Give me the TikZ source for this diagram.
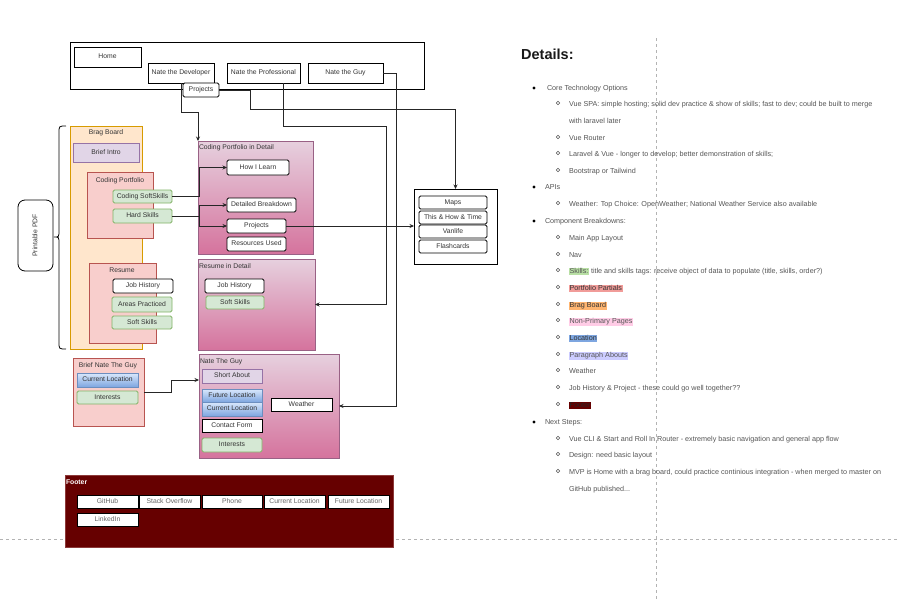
\documentclass[tikz,border=0pt]{standalone}
\usepackage{fontspec}
\setmainfont{Liberation Sans}
\usetikzlibrary{arrows.meta}
\definecolor{txt}{HTML}{333333}
\definecolor{dtx}{HTML}{555555}
\definecolor{greenf}{HTML}{D5E8D4}\definecolor{greend}{HTML}{82B366}
\definecolor{purf}{HTML}{E1D5E7}\definecolor{purd}{HTML}{9673A6}
\definecolor{bluet}{HTML}{DAE8FC}\definecolor{blueb}{HTML}{7EA6E0}\definecolor{blued}{HTML}{6C8EBF}
\definecolor{pinkt}{HTML}{E6D0DE}\definecolor{pinkb}{HTML}{D5739D}\definecolor{pinkd}{HTML}{996185}
\definecolor{redf}{HTML}{F8CECC}\definecolor{redd}{HTML}{B85450}
\definecolor{orf}{HTML}{FFE6CC}\definecolor{ord}{HTML}{D79B00}
\definecolor{footf}{HTML}{660000}\definecolor{footd}{HTML}{8C3A3A}
\definecolor{gridc}{HTML}{B3B3B3}
\definecolor{hlskill}{HTML}{B9E0A5}\definecolor{hlport}{HTML}{F19C99}
\definecolor{hlbrag}{HTML}{FFB570}\definecolor{hlnon}{HTML}{FFCCE6}
\definecolor{hlloc}{HTML}{7EA6E0}\definecolor{hlpar}{HTML}{CCCCFF}
\newcommand\mybox[7]{\node[#1, minimum width={(#5-#3)*1pt}, minimum height={(#6-#4)*1pt}] (#2) at ({(#3+#5)/2},{(#4+#6)/2}) {#7};}
\newcommand\hl[2]{{\setlength{\fboxsep}{0.6pt}\colorbox{#1}{#2}}}
\tikzset{
  base/.style={inner sep=0pt, outer sep=0pt, text=txt, font=\fontsize{6.8}{8}\selectfont, text height=5pt, text depth=1.5pt},
  sqbox/.style={base, draw=black, fill=white, line width=0.8pt},
  wbox/.style={sqbox, rounded corners=1.5pt},
  gbox/.style={base, draw=greend, fill=greenf, line width=0.8pt, rounded corners=1.5pt},
  pbox/.style={base, draw=purd, fill=purf, line width=0.8pt},
  bbox/.style={base, draw=blued, top color=bluet, bottom color=blueb, line width=0.8pt},
  pinkc/.style={base, draw=pinkd, top color=pinkt, bottom color=pinkb, line width=0.6pt},
  redc/.style={base, draw=redd, fill=redf, line width=0.6pt},
  orc/.style={base, draw=ord, fill=orf, line width=0.6pt},
  plainc/.style={base, draw=black, line width=0.6pt},
  lbl/.style={base},
  conn/.style={draw=black!85, line width=0.7pt},
  arr/.style={conn, -{Stealth[length=4.5pt,width=4pt]}},
  dtxt/.style={inner sep=0pt, outer sep=0pt, text=dtx, font=\fontsize{7.2}{8.5}\selectfont, text height=5.4pt, text depth=1.6pt, anchor=west},
  grid/.style={draw=gridc, line width=0.6pt, dash pattern=on 3pt off 3pt},
}
\begin{document}
\begin{tikzpicture}[x=1pt,y=-1pt]
\useasboundingbox (0,0) rectangle (900,600);
\fill[white] (0,0) rectangle (900,600);
% grid lines
\draw[grid] (0,539) -- (900,539);
\draw[grid] (656,38) -- (656,600);

% nav
\mybox{plainc}{navbox}{70}{42}{424}{89}{}
\mybox{sqbox}{home}{74}{47}{141}{67}{Home}
\mybox{sqbox}{dev}{148}{63}{214}{83}{Nate the Developer}
\mybox{sqbox}{prof}{227}{63}{300}{83}{Nate the Professional}
\mybox{sqbox}{guy}{308}{63}{383}{83}{Nate the Guy}
\mybox{wbox}{navproj}{183}{83}{219}{97}{Projects}

% printable pdf + brace
\mybox{base,draw=black,line width=0.8pt,rounded corners=7pt}{pdf}{18}{200}{53}{271}{}
\node[lbl, rotate=90] (pdfl) at (pdf.center) {Printable PDF};
\draw[black, line width=0.8pt] (66,126) .. controls (59,126) .. (59,133) -- (59,230) .. controls (59,237) .. (54,237) .. controls (59,237) .. (59,244) -- (59,342) .. controls (59,349) .. (66,349);

% brag board
\mybox{orc}{brag}{70}{126}{142}{349}{}
\node[lbl] (bragl) at (106,133) {Brag Board};
\mybox{pbox}{intro}{73}{143}{139}{162}{Brief Intro}
\mybox{redc}{cp}{87}{172}{153}{238}{}
\node[lbl] (cpl) at (120,181) {Coding Portfolio};
\mybox{gbox}{css}{113}{190}{172}{203}{Coding SoftSkills}
\mybox{gbox}{hs}{113}{209}{172}{223}{Hard Skills}
\mybox{redc}{res}{89}{263}{156}{343}{}
\node[lbl] (resl) at (122,271) {Resume};
\mybox{wbox}{rjh}{113}{279}{173}{293}{Job History}
\mybox{gbox}{rap}{112}{297}{172}{312}{Areas Practiced}
\mybox{gbox}{rss}{112}{316}{172}{329}{Soft Skills}

% brief nate the guy
\mybox{redc}{bng}{73}{358}{144}{426}{}
\node[lbl] (bngl) at (108,366) {Brief Nate The Guy};
\mybox{bbox}{bcl}{77}{373}{138}{387}{Current Location}
\mybox{gbox}{bint}{77}{391}{138}{404}{Interests}

% coding portfolio detail
\mybox{pinkc}{cpd}{198}{141}{313}{254}{}
\node[lbl, anchor=west] (cpdl) at (199,148) {Coding Portfolio in Detail};
\mybox{wbox}{hil}{227}{160}{289}{175}{How I Learn}
\mybox{wbox}{db}{227}{198}{296}{212}{Detailed Breakdown}
\mybox{wbox}{prj}{227}{219}{286}{233}{Projects}
\mybox{wbox}{ru}{227}{237}{286}{251}{Resources Used}

% resume detail
\mybox{pinkc}{rd}{198}{259}{315}{350}{}
\node[lbl, anchor=west] (rdl) at (199,267) {Resume in Detail};
\mybox{wbox}{rdjh}{205}{279}{264}{293}{Job History}
\mybox{gbox}{rdss}{206}{296}{264}{309}{Soft Skills}

% nate the guy detail
\mybox{pinkc}{ngd}{199}{354}{339}{458}{}
\node[lbl, anchor=west] (ngdl) at (200,362) {Nate The Guy};
\mybox{pbox}{sa}{202}{369}{262}{383}{Short About}
\mybox{bbox}{fl}{202}{389}{262}{402}{Future Location}
\mybox{bbox}{cl}{202}{402}{262}{416}{Current Location}
\mybox{sqbox}{cf}{202}{419}{262}{432}{Contact Form}
\mybox{gbox}{nint}{202}{438}{262}{452}{Interests}
\mybox{sqbox}{wea}{271}{398}{332}{411}{Weather}

% api box
\mybox{plainc}{api}{414}{189}{497}{264}{}
\mybox{wbox}{maps}{419}{196}{487}{209}{Maps}
\mybox{wbox}{thow}{419}{211}{487}{224}{This \& How \& Time}
\mybox{wbox}{van}{419}{225}{487}{238}{Vanlife}
\mybox{wbox}{flash}{419}{240}{487}{253}{Flashcards}

% footer
\mybox{base,draw=footd,fill=footf,line width=0.6pt}{foot}{65}{475}{393}{547}{}
\node[lbl, anchor=west, text=white, font=\bfseries\fontsize{6.8}{8}\selectfont] (footl) at (66,483) {Footer};
\tikzset{fbtn/.style={sqbox, text=black!60}}
\mybox{fbtn}{fgh}{77}{495}{138}{508}{GitHub}
\mybox{fbtn}{fso}{139}{495}{200}{508}{Stack Overflow}
\mybox{fbtn}{fph}{202}{495}{262}{508}{Phone}
\mybox{fbtn}{fcl}{264}{495}{325}{508}{Current Location}
\mybox{fbtn}{ffl}{328}{495}{389}{508}{Future Location}
\mybox{fbtn}{fli}{77}{513}{138}{526}{LinkedIn}

% connectors
\draw[arr] (dev.south) -- (181,112) -| (cpd.north west);
\draw[arr] (navproj.east) -| (250,109) -| (api.north);
\draw[arr] ([xshift=20pt]prof.south) |- (386,126) |- (rd.east);
\draw[arr] (guy.east) -| (396,406) -- (ngd.east);
\draw[arr] (css.east) -- ++(27,0) |- (hil.west);
\draw[arr] (hs.east) -- ++(27,0) |- (db.west);
\draw[arr] (hs.east) -- ++(27,0) |- (prj.west);
\draw[arr] (prj.east) -- (prj.east -| api.west);
\draw[arr] (bng.east) -- ++(27,0) |- ([yshift=26pt]ngd.west);

% details
\node[anchor=west, inner sep=0pt, font=\bfseries\fontsize{14.5}{16}\selectfont, text=black!90] (dtitle) at (521,54) {Details:};
\foreach \yy in {88,187,221,422} {\fill[black] (534,\yy) circle (1.6pt);}
\foreach \yy in {104,138,154,171,204,238,255,271,288,305,321,338,355,371,388,405,439,455,472} {\draw[dtx, line width=0.5pt] (558,\yy-1) circle (1.8pt);}
\begin{scope}[yshift=-1pt]
\node[dtxt] (d1) at (547,88) {Core Technology Options};
\node[dtxt] (d2) at (569,104) {Vue SPA: simple hosting; solid dev practice \& show of skills; fast to dev; could be built to merge};
\node[dtxt] (d3) at (569,121) {with laravel later};
\node[dtxt] (d4) at (569,138) {Vue Router};
\node[dtxt] (d5) at (569,154) {Laravel \& Vue - longer to develop; better demonstration of skills;};
\node[dtxt] (d6) at (569,171) {Bootstrap or Tailwind};
\node[dtxt] (d7) at (545,187) {APIs};
\node[dtxt] (d8) at (569,204) {Weather: Top Choice: OpenWeather; National Weather Service also available};
\node[dtxt] (d9) at (545,221) {Component Breakdowns:};
\node[dtxt] (d10) at (569,238) {Main App Layout};
\node[dtxt] (d11) at (569,255) {Nav};
\node[dtxt] (d12) at (569,271) {\hl{hlskill}{Skills:} title and skills tags: receive object of data to populate (title, skills, order?)};
\node[dtxt] (d13) at (569,288) {\hl{hlport}{\color{txt}Portfolio Partials}};
\node[dtxt] (d14) at (569,305) {\hl{hlbrag}{\color{txt}Brag Board}};
\node[dtxt] (d15) at (569,321) {\hl{hlnon}{Non-Primary Pages}};
\node[dtxt] (d16) at (569,338) {\hl{hlloc}{\color{txt}Location}};
\node[dtxt] (d17) at (569,355) {\hl{hlpar}{Paragraph Abouts}};
\node[dtxt] (d18) at (569,371) {Weather};
\node[dtxt] (d19) at (569,388) {Job History \& Project - these could go well together??};
\node[dtxt] (d20) at (569,405) {\hl{footf}{\color{black!85}Footer}};
\node[dtxt] (d21) at (545,422) {Next Steps:};
\node[dtxt] (d22) at (569,439) {Vue CLI \& Start and Roll In Router - extremely basic navigation and general app flow};
\node[dtxt] (d23) at (569,455) {Design: need basic layout};
\node[dtxt] (d24) at (569,472) {MVP is Home with a brag board, could practice continious integration - when merged to master on};
\node[dtxt] (d25) at (569,489) {GitHub published...};
\end{scope}
\end{tikzpicture}
\end{document}
